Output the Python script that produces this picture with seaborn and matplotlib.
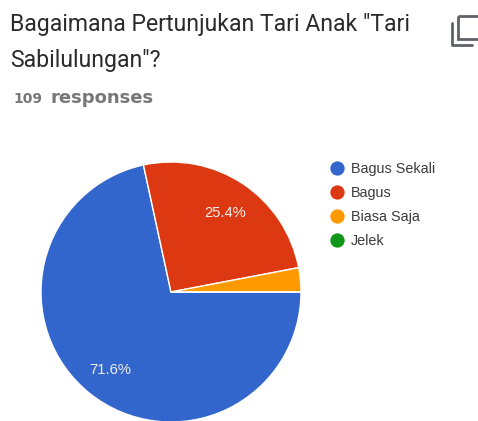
import math

import matplotlib
matplotlib.use("Agg")
import matplotlib.pyplot as plt
import seaborn as sns
from matplotlib.lines import Line2D
from matplotlib.patches import Rectangle

categories = ["Bagus Sekali", "Bagus", "Biasa Saja", "Jelek"]
shares = [71.6, 25.4, 3.0, 0.0]
slice_colors = ["#3366cc", "#dc3912", "#ff9900", "#109618"]
title_lines = ['Bagaimana Pertunjukan Tari Anak "Tari', 'Sabilulungan"?']
response_count = "109"
response_word = "responses"

sns.set_theme(style="white")
plt.rcParams["font.family"] = ["Roboto", "DejaVu Sans"]

W, H = 478, 421
fig = plt.figure(figsize=(W / 100, H / 100), dpi=100, facecolor="white")


def px(x, y):
    """Convert pixel coordinates (origin top-left) to figure fractions."""
    return x / W, 1 - y / H


# Pie chart, clockwise from three o'clock
ax = fig.add_axes([41 / W, (H - 422) / H, 260 / W, 260 / H])
wedges, _ = ax.pie(
    shares, colors=slice_colors, startangle=0, counterclock=False, radius=1,
    wedgeprops={"edgecolor": "white", "linewidth": 1.0},
)
ax.set_xlim(-1, 1)
ax.set_ylim(-1, 1)
ax.set_aspect("equal")
ax.axis("off")
for w in wedges:
    w.set_clip_on(False)

# Percentage labels for the two large slices
for w, share in zip(wedges[:2], shares[:2]):
    mid = math.radians((w.theta1 + w.theta2) / 2)
    ax.text(0.75 * math.cos(mid), 0.75 * math.sin(mid) - 0.015, f"{share:.1f}%",
            color="#eeeeee", fontsize=10.6, ha="center", va="center",
            family="Liberation Sans")

# Question header
for text, y in zip(title_lines, (24, 60)):
    fig.text(*px(10, y), text, fontsize=16.6, color="#2b2b2b", va="center", ha="left")
fig.text(*px(13, 99), response_count, fontsize=10, color="#777777", va="center",
         ha="left", fontweight="bold", family="DejaVu Sans")
fig.text(*px(50, 98), response_word, fontsize=13, color="#777777", va="center",
         ha="left", fontweight="bold", family="DejaVu Sans")

# Legend
handles = [Line2D([], [], linestyle="none", marker="o", markersize=10.3,
                  markerfacecolor=c, markeredgewidth=0) for c in slice_colors]
fig.legend(handles, categories, loc="upper left", bbox_to_anchor=px(327, 162),
           frameon=False, labelspacing=0.69, handletextpad=0.28,
           borderpad=0, borderaxespad=0, handlelength=1.4,
           labelcolor="#3c3c3c", prop={"family": "Liberation Sans", "size": 10.4})

# Copy icon in the header
ic = fig.add_axes([0, 0, 1, 1], facecolor="none")
ic.set_xlim(0, W)
ic.set_ylim(H, 0)
ic.axis("off")
ic.add_patch(Rectangle((458, 16), 22, 23, fill=False, edgecolor="#5f6368",
                       linewidth=2, clip_on=True))
ic.plot([452.5, 452.5, 472], [23, 45, 45], color="#5f6368", linewidth=2)

fig.savefig("out.png", dpi=100)
